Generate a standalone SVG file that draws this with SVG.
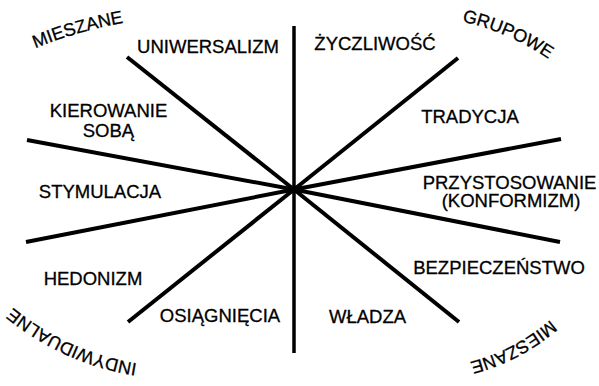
<svg xmlns="http://www.w3.org/2000/svg" width="599" height="386" viewBox="0 0 599 386">
<style>
.t{font-family:"Liberation Sans",Arial,sans-serif;font-size:18.5px;fill:#000;stroke:#000;stroke-width:0.3;text-anchor:middle}
.c{font-family:"Liberation Sans",Arial,sans-serif;font-size:18px;fill:#000;stroke:#000;stroke-width:0.3;text-anchor:middle}
.ln{stroke:#000;stroke-width:4;stroke-linecap:butt;fill:none}
</style>
<defs>
<path id="p1" d="M36,48 Q78,31 123,23"/>
<path id="p2" d="M464,22 Q508,32 547,58"/>
<path id="p3" d="M141,364 Q67,353 10,305"/>
<path id="p4" d="M550,320 Q515,350 470,362"/>
</defs>
<rect width="599" height="386" fill="#fff"/>
<g id="connectors">
<line class="ln" x1="294" y1="26" x2="294" y2="353" style="stroke-width:3.5"/>
<line class="ln" x1="127" y1="57" x2="294" y2="189.5"/>
<line class="ln" x1="458" y1="58" x2="294" y2="189.5"/>
<line class="ln" x1="27" y1="140" x2="294" y2="189.5"/>
<line class="ln" x1="26" y1="242" x2="294" y2="189.5"/>
<line class="ln" x1="561" y1="139" x2="294" y2="189.5"/>
<line class="ln" x1="560" y1="242" x2="294" y2="189.5"/>
<line class="ln" x1="128" y1="322" x2="294" y2="189.5"/>
<line class="ln" x1="459" y1="322" x2="294" y2="189.5"/>
<circle cx="294" cy="189.5" r="4" fill="#000"/>
</g>
<g id="uniwersalizm"><text class="t" x="208" y="53">UNIWERSALIZM</text></g>
<g id="zyczliwosc"><text class="t" x="375" y="50">ŻYCZLIWOŚĆ</text></g>
<g id="kierowanie"><text class="t" x="108.5" y="117">KIEROWANIE</text><text class="t" x="108.5" y="137">SOBĄ</text></g>
<g id="stymulacja"><text class="t" x="100" y="198">STYMULACJA</text></g>
<g id="tradycja"><text class="t" x="470" y="123">TRADYCJA</text></g>
<g id="przystosowanie"><text class="t" x="509.5" y="188.5">PRZYSTOSOWANIE</text><text class="t" x="511" y="207">(KONFORMIZM)</text></g>
<g id="hedonizm"><text class="t" x="93" y="285">HEDONIZM</text></g>
<g id="osiagniecia"><text class="t" x="220" y="322">OSIĄGNIĘCIA</text></g>
<g id="bezpieczenstwo"><text class="t" x="499" y="274">BEZPIECZEŃSTWO</text></g>
<g id="wladza"><text class="t" x="367.5" y="322.5">WŁADZA</text></g>
<g id="mieszane-tl"><text class="c"><textPath href="#p1" startOffset="50%">MIESZANE</textPath></text></g>
<g id="grupowe"><text class="c"><textPath href="#p2" startOffset="50%">GRUPOWE</textPath></text></g>
<g id="indywidualne"><text class="c"><textPath href="#p3" startOffset="50%">INDYWIDUALNE</textPath></text></g>
<g id="mieszane-br"><text class="c"><textPath href="#p4" startOffset="50%">MIESZANE</textPath></text></g>
</svg>
